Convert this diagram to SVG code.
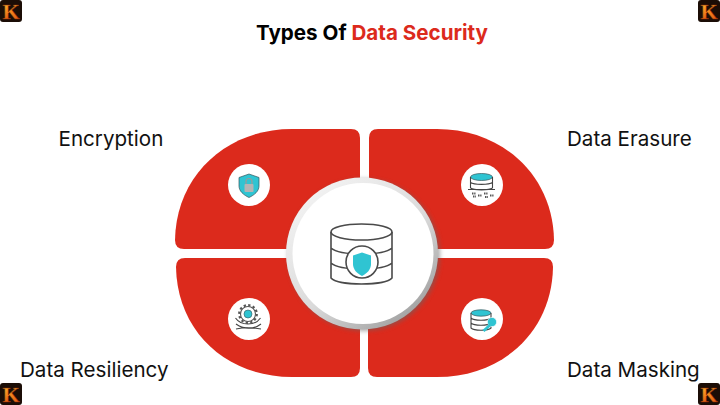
<svg xmlns="http://www.w3.org/2000/svg" xmlns:xlink="http://www.w3.org/1999/xlink" width="720" height="405" viewBox="0 0 720 405">
<style>
.lbl{font-family:Inter,"Liberation Sans",sans-serif;font-size:20.6px;fill:#111}
.ttl{font-family:Inter,"Liberation Sans",sans-serif;font-size:20.6px;font-weight:700}
.q{fill:#dc2a1c}
.disc{fill:#fff}
.ln{fill:none;stroke:#444;stroke-width:1.1}
.thick{fill:none;stroke:#4a4a4a;stroke-width:1.6}
.cy{fill:#2fc4d2;stroke:#35565c;stroke-width:.7}
.kk{font-family:"Liberation Serif",serif;font-size:22px;font-weight:700;fill:url(#fire);stroke:#7a2406;stroke-width:.4;text-anchor:middle}
</style>
<defs>
<linearGradient id="fire" x1="0" y1="0" x2="0" y2="1"><stop offset="0" stop-color="#ffc23a"/><stop offset="0.5" stop-color="#f58a1e"/><stop offset="1" stop-color="#d9480f"/></linearGradient>
<linearGradient id="ring" x1="0.2" y1="0.1" x2="0.85" y2="0.9"><stop offset="0" stop-color="#f1f1f1"/><stop offset="0.55" stop-color="#dadada"/><stop offset="1" stop-color="#a2a2a2"/></linearGradient>
<filter id="sh" x="-20%" y="-20%" width="140%" height="140%"><feGaussianBlur stdDeviation="2"/></filter>
<g id="logo"><rect width="22" height="22" rx="3" fill="#1b0d06"/><text class="kk" x="11" y="18.500">K</text></g>
</defs>
<rect width="720" height="405" fill="#fff"/>
<g id="logos">
<use xlink:href="#logo" x="0" y="0"/><use xlink:href="#logo" x="698" y="0"/><use xlink:href="#logo" x="0" y="383"/><use xlink:href="#logo" x="698" y="383"/>
</g>
<g id="title"><text class="ttl" x="256" y="40">Types Of <tspan fill="#dc2a1c">Data Security</tspan></text></g>
<g id="connectors"></g>
<g id="node-encryption">
<path class="q" d="M184 249Q175 249 175 240C176 176 226 129 292 129L351 129Q360 129 360 138L360 249Z"/>
<circle class="disc" cx="249" cy="185" r="21"/>
<path class="cy" d="M249 174L259 177.500V186C259 191 254.500 195 249 197.500C243.500 195 239 191 239 186V177.500Z"/>
<rect x="244.500" y="184" width="9" height="8" rx="1" fill="#b4b4b4"/>
<path d="M246 184V181.500A3 3 0 0 1 252 181.500V184" fill="none" stroke="#9a9a9a" stroke-width="1.200"/>
<text class="lbl" x="58.500" y="146">Encryption</text>
</g>
<g id="node-erasure">
<path class="q" d="M545 249Q554 249 554 240C553 176 503 129 437 129L378 129Q369 129 369 138L369 249Z"/>
<circle class="disc" cx="482" cy="185" r="21"/>
<ellipse cx="481.500" cy="177" rx="11" ry="3.500" fill="#2fc4d2" stroke="#35565c" stroke-width=".7"/>
<path class="ln" d="M470.500 177V188M492.500 177V188M470.500 182.500C474 185 489 185 492.500 182.500M470.500 188C474 190.500 489 190.500 492.500 188M468 189.500H495" stroke-width=".8"/>
<path d="M472 193.500h3.500M478 195.500h3.500M484 193.500h3.500M490 195.500h3.500M473 196.500h3M485 197h3" fill="none" stroke="#555" stroke-width="2" stroke-dasharray="1.500 .7"/>
<text class="lbl" x="567" y="146">Data Erasure</text>
</g>
<g id="node-resiliency">
<path class="q" d="M185 258Q176 258 176 267C177 331 226 377 292 377L351 377Q360 377 360 368L360 258Z"/>
<circle class="disc" cx="249" cy="319" r="21"/>
<circle cx="248" cy="314" r="7.500" fill="#fff" stroke="#555" stroke-width="1.100"/>
<circle cx="248" cy="314" r="8.800" fill="none" stroke="#555" stroke-width="2.200" stroke-dasharray="2.300 2.300"/>
<circle cx="248" cy="314" r="4" fill="#2fc4d2" stroke="#35565c" stroke-width=".6"/>
<path class="ln" d="M235.500 318C241 326 255 326 260.500 318M236 324C243 329.500 254 329.500 261 324M236 329C243 327.500 253 327.500 261 329" stroke-width=".9"/>
<text class="lbl" x="20" y="377">Data Resiliency</text>
</g>
<g id="node-masking">
<path class="q" d="M544 258Q553 258 553 267C552 331 503 377 437 377L377 377Q368 377 368 368L368 258Z"/>
<circle class="disc" cx="482" cy="319" r="21"/>
<ellipse cx="481" cy="313" rx="10" ry="3.200" fill="#2fc4d2" stroke="#35565c" stroke-width=".7"/>
<path class="ln" d="M471 313V328C474 331 488 331 491 328V313M471 318C474 321 488 321 491 318M471 323C474 326 488 326 491 323" stroke-width=".9"/>
<circle cx="492" cy="322" r="4.600" fill="#2fc4d2" stroke="#fff" stroke-width=".6"/>
<path d="M490 325L483.500 331" fill="none" stroke="#2fc4d2" stroke-width="2.800"/>
<text class="lbl" x="567" y="377">Data Masking</text>
</g>
<g id="node-center">
<circle cx="364" cy="255" r="76" fill="#666" opacity=".55" filter="url(#sh)"/>
<circle cx="362" cy="253.500" r="76" fill="url(#ring)"/>
<circle cx="363" cy="253.500" r="70.500" fill="#fff"/>
<ellipse class="thick" cx="361.500" cy="232" rx="30.500" ry="8"/>
<path class="thick" d="M331 232V278C338 286 385 286 392 278V232M331 248C340 256 383 256 392 248M331 263C340 271 383 271 392 263"/>
<circle cx="362" cy="262" r="16" fill="#fff" stroke="#4a4a4a" stroke-width="1.600"/>
<path d="M362 252.500L371 255.500V264C371 269.500 367 273.500 362 276C357 273.500 353 269.500 353 264V255.500Z" fill="#2fc4d2"/>
</g>
</svg>
